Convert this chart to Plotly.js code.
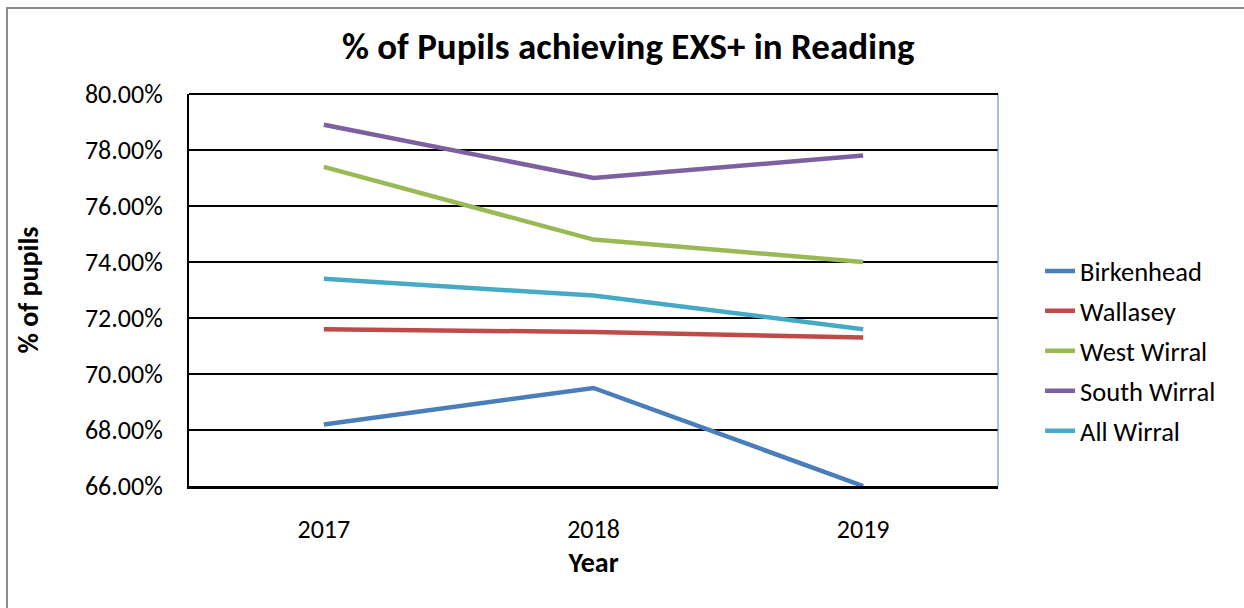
<!DOCTYPE html>
<html><head><meta charset="utf-8">
<script src="https://cdn.plot.ly/plotly-3.0.1.min.js"></script>
<style>html,body{margin:0;padding:0;background:#fff}#chart{width:1244px;height:608px}</style>
</head><body><div id="chart"></div>
<script>
const years = ['2017', '2018', '2019'];
const birkenhead = [68.2, 69.5, 66.0];
const wallasey = [71.6, 71.5, 71.3];
const westWirral = [77.4, 74.8, 74.0];
const southWirral = [78.9, 77.0, 77.8];
const allWirral = [73.4, 72.8, 71.6];
const seriesNames = ['Birkenhead', 'Wallasey', 'West Wirral', 'South Wirral', 'All Wirral'];
const seriesColors = ['#4a7ebb', '#be4b48', '#98b954', '#7d60a0', '#46aac5'];
const seriesValues = [birkenhead, wallasey, westWirral, southWirral, allWirral];

const font = "Calibri, Carlito, Lato, sans-serif";
const traces = seriesValues.map((v, i) => ({
  x: years, y: v, type: 'scatter', mode: 'lines', name: seriesNames[i],
  legendgroup: 'g' + i,
  line: {color: seriesColors[i], width: 4.5}, hoverinfo: 'x+y+name'
}));

const layout = {
  width: 1244, height: 608,
  margin: {l: 189, r: 246, t: 94, b: 122},
  paper_bgcolor: '#fff', plot_bgcolor: '#fff',
  font: {family: font, size: 26, color: '#000'},
  title: {text: '<b>% of Pupils achieving EXS+ in Reading</b>', font: {family: font, size: 37, color: '#000'},
          x: 0.505, xref: 'container', xanchor: 'center', y: 0.924, yref: 'container', yanchor: 'middle'},
  xaxis: {type: 'category', range: [-0.5, 2.5], showgrid: false, zeroline: false,
          showline: true, linecolor: '#000', linewidth: 3, ticks: '', ticklen: 0, ticklabelstandoff: 18,
          tickfont: {family: font, size: 26}, title: {text: '<b>Year</b>', font: {family: font, size: 28}, standoff: 7}},
  yaxis: {range: [66, 80], dtick: 2, tick0: 66, tickformat: '.2f', ticksuffix: '%',
          showgrid: true, gridcolor: '#000', gridwidth: 2, zeroline: false,
          showline: true, linecolor: '#000', linewidth: 2, ticks: '', ticklabelstandoff: 19,
          tickfont: {family: font, size: 26},
          title: {text: '<b>% of pupils</b>', font: {family: font, size: 28}, standoff: 38}},
  legend: {x: 1.052, xanchor: 'left', y: 0.344, yanchor: 'middle', font: {family: font, size: 26.5},
           traceorder: 'grouped', tracegroupgap: 2.5, bgcolor: 'rgba(0,0,0,0)'},
  showlegend: true,
  shapes: [
    {type: 'line', xref: 'paper', yref: 'paper', x0: 1, x1: 1, y0: 0, y1: 1, line: {color: '#4a7ebb', width: 1}},
    {type: 'line', xref: 'paper', yref: 'paper', x0: 0, x1: 1, y0: 1, y1: 1, line: {color: '#000', width: 2}},
    {type: 'rect', xref: 'paper', yref: 'paper', x0: -0.2250, x1: 1.35, y0: 1.2194, y1: -0.4, line: {color: '#8c8c8c', width: 2}, fillcolor: 'rgba(0,0,0,0)', layer: 'below'}
  ]
};
Plotly.newPlot('chart', traces, layout, {displayModeBar: false, staticPlot: true});
</script></body></html>
